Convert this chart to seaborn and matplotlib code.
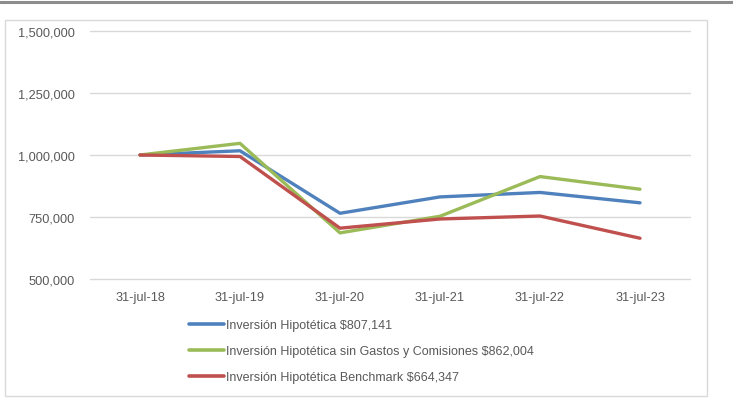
import matplotlib
matplotlib.use("Agg")
import matplotlib.pyplot as plt
import seaborn as sns
import pandas as pd
from matplotlib.ticker import FuncFormatter
from matplotlib.patches import Rectangle
from matplotlib.lines import Line2D

dates = ["31-jul-18", "31-jul-19", "31-jul-20", "31-jul-21", "31-jul-22", "31-jul-23"]
inversion = [1000000, 1017000, 765000, 831000, 849000, 807141]
sin_gastos = [1000000, 1047000, 686000, 753000, 913000, 862004]
benchmark = [1000000, 994000, 705000, 742000, 754000, 664347]
series_names = [
    "Inversión Hipotética $807,141",
    "Inversión Hipotética sin Gastos y Comisiones $862,004",
    "Inversión Hipotética Benchmark $664,347",
]
colors = ["#4F81BD", "#9BBB59", "#C0504D"]
yticks = [500000, 750000, 1000000, 1250000, 1500000]

rows = []
for name, vals in zip(series_names, [inversion, sin_gastos, benchmark]):
    for i, (d, v) in enumerate(zip(dates, vals)):
        rows.append({"pos": i, "fecha": d, "valor": v, "serie": name})
df = pd.DataFrame(rows)

sns.set_theme(style="white")
plt.rcParams["font.family"] = ["Liberation Sans", "DejaVu Sans"]

W, H = 733, 410
fig = plt.figure(figsize=(W / 100, H / 100), dpi=100)
fig.patch.set_facecolor("white")

ax = fig.add_axes([90 / W, 1 - 280 / H, 600 / W, 248 / H])
sns.lineplot(data=df, x="pos", y="valor", hue="serie", palette=colors,
             hue_order=series_names, linewidth=2.4, ax=ax, legend=False,
             sort=False, zorder=3)
ax.set_xlim(-0.5, 5.5)
ax.set_ylim(500000, 1500000)
ax.set_yticks(yticks)
ax.yaxis.set_major_formatter(FuncFormatter(lambda v, p: f"{int(v):,}"))
ax.set_xticks(range(len(dates)))
ax.set_xticklabels(dates)
ax.grid(axis="y", color="#D9D9D9", linewidth=1)
for gl in ax.get_ygridlines():
    gl.set_clip_on(False)
ax.set_axisbelow(True)
for s in ax.spines.values():
    s.set_visible(False)
ax.tick_params(axis="both", length=0, labelsize=9.2, colors="#595959")
ax.tick_params(axis="y", pad=11)
ax.tick_params(axis="x", pad=9)
ax.set_xlabel("")
ax.set_ylabel("")

handles = [Line2D([0], [0], color=c, linewidth=2.6) for c in colors]
fig.legend(handles, series_names, loc="upper left",
           bbox_to_anchor=(184 / W, 1 - 315 / H), frameon=False,
           fontsize=9.0, handlelength=2.8, handletextpad=0.15,
           labelspacing=1.12, labelcolor="#595959", borderaxespad=0)

# chart border
fig.add_artist(Rectangle((5 / W, 1 - 397 / H), 702 / W, 376 / H,
                         transform=fig.transFigure, fill=False,
                         edgecolor="#D9D9D9", linewidth=1))
# top separator line
fig.add_artist(Line2D([0, 1], [1 - 3 / H, 1 - 3 / H], transform=fig.transFigure,
                      color="#8C8C8C", linewidth=2.2))

fig.savefig("out.png", dpi=100)
